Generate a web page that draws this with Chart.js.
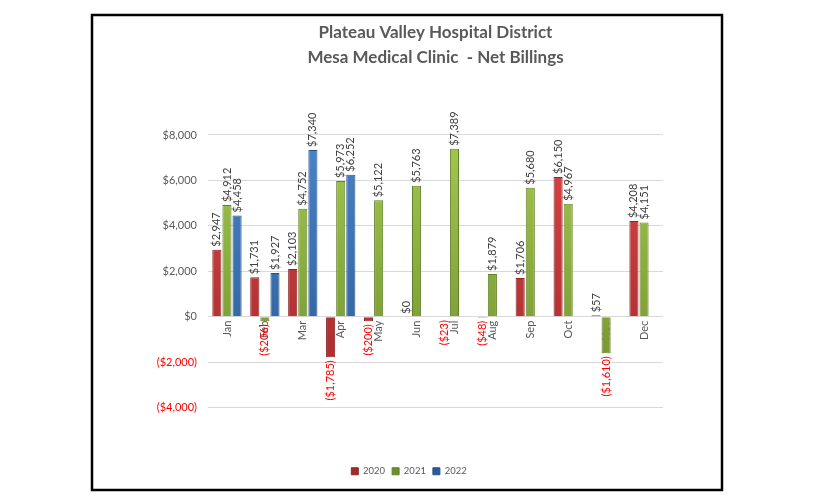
<!DOCTYPE html>
<html>
<head>
<meta charset="utf-8">
<script src="https://cdn.jsdelivr.net/npm/chart.js@4/dist/chart.umd.min.js"></script>
<style>
  html, body { margin: 0; padding: 0; background: #fff; }
  #wrap { width: 816px; height: 504px; }
</style>
</head>
<body>
<div id="wrap"><canvas id="billChart" width="816" height="504"></canvas></div>
<script>
// chart values
var months = ["Jan", "Feb", "Mar", "Apr", "May", "Jun", "Jul", "Aug", "Sep", "Oct", "Nov", "Dec"];
var billings2020 = [2947, 1731, 2103, -1785, -200, 0, -23, -48, 1706, 6150, 57, 4208];
var billings2021 = [4912, -206, 4752, 5973, 5122, 5763, 7389, 1879, 5680, 4967, -1610, 4151];
var billings2022 = [4458, 1927, 7340, 6252, null, null, null, null, null, null, null, null];
var yTicks = [-4000, -2000, 0, 2000, 4000, 6000, 8000];
var titleLines = ["Plateau Valley Hospital District", "Mesa Medical Clinic  - Net Billings"];

var money = function (v) {
    var s = "$" + Math.abs(v).toLocaleString("en-US");
    return v < 0 ? "(" + s + ")" : s;
};

// vertical shading for the bars, light on top, dark below
var shade = function (light, dark) {
    return function (ctx) {
        var area = ctx.chart.chartArea;
        if (!area) return light;
        var g = ctx.chart.ctx.createLinearGradient(0, area.top, 0, area.bottom);
        g.addColorStop(0, light);
        g.addColorStop(1, dark);
        return g;
    };
};

// rotated value labels above / below each bar
var valueLabels = {
    id: "valueLabels",
    afterDatasetsDraw: function (chart) {
        var c = chart.ctx;
        c.save();
        c.font = "11px Lato";
        c.textBaseline = "middle";
        chart.data.datasets.forEach(function (ds, di) {
            var meta = chart.getDatasetMeta(di);
            meta.data.forEach(function (bar, i) {
                var v = ds.data[i];
                if (v === null || v === undefined) return;
                c.save();
                if (v < 0) {
                    c.translate(bar.x, bar.y + 3);
                    c.rotate(-Math.PI / 2);
                    c.textAlign = "right";
                    c.fillStyle = "#ff0000";
                } else {
                    c.translate(bar.x, bar.y - 3);
                    c.rotate(-Math.PI / 2);
                    c.textAlign = "left";
                    c.fillStyle = "#404040";
                }
                c.fillText(money(v), 0, 0);
                c.restore();
            });
        });
        c.restore();
    }
};

// outer black frame
var frame = {
    id: "frame",
    beforeDraw: function (chart) {
        var c = chart.ctx;
        c.save();
        c.fillStyle = "#fff";
        c.fillRect(0, 0, chart.width, chart.height);
        c.restore();
    },
    afterDraw: function (chart) {
        var c = chart.ctx;
        c.save();
        c.strokeStyle = "#000";
        c.lineWidth = 2.5;
        c.strokeRect(92, 15, 630, 475);
        c.restore();
    }
};

var ctx = document.getElementById("billChart");
var myChart = new Chart(ctx, {
    type: "bar",
    data: {
        labels: months,
        datasets: [
            {
                label: "2020",
                data: billings2020,
                backgroundColor: shade("#db4545", "#a22a2a"),
                borderColor: "#8e2525",
                borderWidth: 1
            },
            {
                label: "2021",
                data: billings2021,
                backgroundColor: shade("#a3c850", "#6f8f2c"),
                borderColor: "#62802a",
                borderWidth: 1
            },
            {
                label: "2022",
                data: billings2022,
                backgroundColor: shade("#4a84c8", "#2c5a96"),
                borderColor: "#27518a",
                borderWidth: 1
            }
        ]
    },
    options: {
        responsive: false,
        animation: false,
        layout: { padding: { left: 155, right: 153, top: 0, bottom: 18 } },
        categoryPercentage: 0.8,
        barPercentage: 0.9,
        scales: {
            x: {
                position: { y: 0 },
                grid: { display: false, drawTicks: false },
                border: { display: false },
                ticks: {
                    minRotation: 90,
                    maxRotation: 90,
                    padding: 4,
                    color: "#595959",
                    font: { family: "Lato", size: 11 }
                }
            },
            // empty spacer axis, keeps room between plot and legend
            gap: {
                type: "category",
                position: "bottom",
                grid: { display: false, drawTicks: false },
                border: { display: false },
                ticks: { display: false },
                afterFit: function (s) { s.height = 52; }
            },
            y: {
                min: -4000,
                max: 8000,
                afterBuildTicks: function (s) {
                    s.ticks = yTicks.map(function (v) { return { value: v }; });
                },
                grid: { color: "#d9d9d9", drawTicks: false },
                border: { display: false },
                ticks: {
                    padding: 11,
                    font: { family: "Lato", size: 11 },
                    color: function (c) { return c.tick && c.tick.value < 0 ? "#ff0000" : "#595959"; },
                    callback: function (v) { return money(v); }
                },
                afterFit: function (s) { s.width = 53; }
            }
        },
        plugins: {
            title: {
                display: true,
                text: titleLines,
                fullSize: false,
                color: "#595959",
                font: { family: "Lato", size: 17, weight: "bold", lineHeight: 1.47 },
                padding: { top: 20, bottom: 65 }
            },
            legend: {
                position: "bottom",
                labels: {
                    boxWidth: 7,
                    boxHeight: 7,
                    padding: 7,
                    color: "#595959",
                    font: { family: "Lato", size: 9.5 }
                }
            },
            tooltip: { enabled: false }
        }
    },
    plugins: [valueLabels, frame]
});
</script>
</body>
</html>
